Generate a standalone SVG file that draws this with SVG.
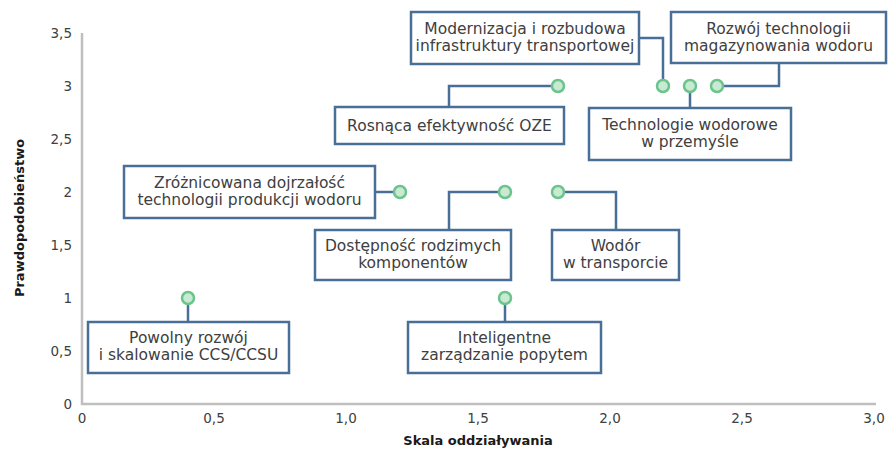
<svg xmlns="http://www.w3.org/2000/svg" width="888" height="450" viewBox="0 0 888 450">
<style>
.box{fill:#fff;stroke:#4a6f97;stroke-width:2.5}
.lbl{font-family:"DejaVu Sans",sans-serif;font-size:15.5px;fill:#404040;text-anchor:middle}
.tick{font-family:"DejaVu Sans",sans-serif;font-size:13.5px;fill:#404040}
.axt{font-family:"DejaVu Sans",sans-serif;font-size:13px;font-weight:bold;fill:#1a1a1a;text-anchor:middle}
.ax{stroke:#bfbfbf;stroke-width:2.5;fill:none}
.con{stroke:#4a6f97;stroke-width:2.5;fill:none}
.pt{fill:#c8ead3;stroke:#6cc48c;stroke-width:2.5}
</style>
<rect width="888" height="450" fill="#fff"/>
<g id="axes">
<path class="ax" d="M82,33 V404 H876"/>
<g class="tick" text-anchor="end">
<text x="72" y="38">3,5</text>
<text x="72" y="91">3</text>
<text x="72" y="144">2,5</text>
<text x="72" y="197">2</text>
<text x="72" y="250">1,5</text>
<text x="72" y="303">1</text>
<text x="72" y="356">0,5</text>
<text x="72" y="409">0</text>
</g>
<g class="tick" text-anchor="middle">
<text x="82" y="423">0</text>
<text x="214" y="423">0,5</text>
<text x="346" y="423">1,0</text>
<text x="478" y="423">1,5</text>
<text x="610" y="423">2,0</text>
<text x="742" y="423">2,5</text>
<text x="874" y="423">3,0</text>
</g>
<text class="axt" x="478" y="445">Skala oddziaływania</text>
<text class="axt" transform="translate(24,218) rotate(-90)">Prawdopodobieństwo</text>
</g>
<g id="connectors">
<path class="con" d="M188,298 V322"/>
<path class="con" d="M375,192 H400"/>
<path class="con" d="M505,192 H449 V230"/>
<path class="con" d="M558,192 H616 V230"/>
<path class="con" d="M505,298 V322"/>
<path class="con" d="M558,86 H449 V107"/>
<path class="con" d="M639,38 H663 V86"/>
<path class="con" d="M690,86 V108"/>
<path class="con" d="M717,86 H779 V63"/>
</g>
<g id="n1"><rect class="box" x="88" y="322" width="201" height="51"/><text class="lbl" x="188.5" y="343">Powolny rozwój</text><text class="lbl" x="188.5" y="360">i skalowanie CCS/CCSU</text><circle class="pt" cx="188" cy="298" r="6"/></g>
<g id="n2"><rect class="box" x="124" y="166" width="251" height="52"/><text class="lbl" x="249.5" y="188">Zróżnicowana dojrzałość</text><text class="lbl" x="249.5" y="205">technologii produkcji wodoru</text><circle class="pt" cx="400" cy="192" r="6"/></g>
<g id="n3"><rect class="box" x="315" y="230" width="196" height="50"/><text class="lbl" x="413" y="251">Dostępność rodzimych</text><text class="lbl" x="413" y="268">komponentów</text><circle class="pt" cx="505" cy="192" r="6"/></g>
<g id="n4"><rect class="box" x="552" y="230" width="127" height="50"/><text class="lbl" x="615.5" y="251">Wodór</text><text class="lbl" x="615.5" y="268">w transporcie</text><circle class="pt" cx="558" cy="192" r="6"/></g>
<g id="n5"><rect class="box" x="408" y="322" width="193" height="51"/><text class="lbl" x="504.5" y="343">Inteligentne</text><text class="lbl" x="504.5" y="360">zarządzanie popytem</text><circle class="pt" cx="505" cy="298" r="6"/></g>
<g id="n6"><rect class="box" x="335" y="107" width="229" height="37"/><text class="lbl" x="449.5" y="131">Rosnąca efektywność OZE</text><circle class="pt" cx="558" cy="86" r="6"/></g>
<g id="n7"><rect class="box" x="411" y="12" width="228" height="52"/><text class="lbl" x="525" y="34">Modernizacja i rozbudowa</text><text class="lbl" x="525" y="51">infrastruktury transportowej</text><circle class="pt" cx="663" cy="86" r="6"/></g>
<g id="n8"><rect class="box" x="589" y="108" width="202" height="52"/><text class="lbl" x="690" y="130">Technologie wodorowe</text><text class="lbl" x="690" y="147">w przemyśle</text><circle class="pt" cx="690" cy="86" r="6"/></g>
<g id="n9"><rect class="box" x="671" y="12" width="215" height="51"/><text class="lbl" x="778.5" y="34">Rozwój technologii</text><text class="lbl" x="778.5" y="51">magazynowania wodoru</text><circle class="pt" cx="717" cy="86" r="6"/></g>
</svg>
